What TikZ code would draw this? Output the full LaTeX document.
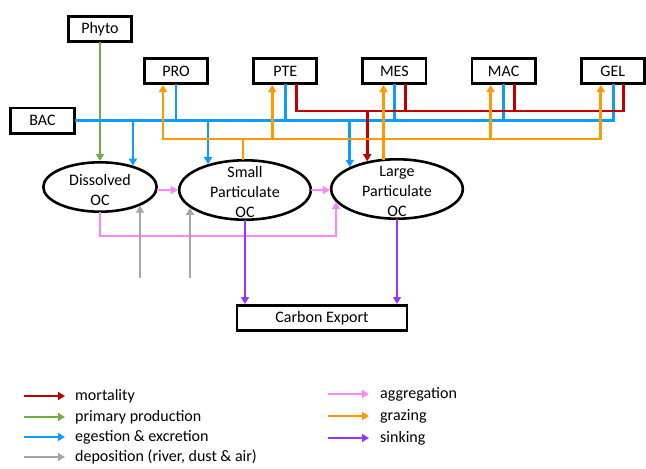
\documentclass[tikz,border=0pt]{standalone}
\usepackage{fontspec}
\setmainfont{Carlito}
\usepackage{xcolor}
\usetikzlibrary{shapes.geometric, arrows.meta, positioning}

\definecolor{mortred}{HTML}{C00000}
\definecolor{prodgreen}{HTML}{70AD47}
\definecolor{egestblue}{HTML}{0E9BFF}
\definecolor{depgray}{HTML}{A6A6A6}
\definecolor{aggrpink}{HTML}{FF85FF}
\definecolor{grazeorange}{HTML}{FF9900}
\definecolor{sinkpurple}{HTML}{9436FF}

\begin{document}
\begin{tikzpicture}[x=1pt, y=-1pt, node distance=43.2pt, font=\fontsize{16}{20}\selectfont]
    % Styles
    \tikzstyle{compartment} = [rectangle, minimum width=63.2pt, minimum height=25.2pt, text centered, draw=black, line width=2.8pt]
    \tikzstyle{pool} = [ellipse, draw=black, line width=2.6pt, inner sep=0pt, minimum width=131.6pt, minimum height=59.4pt]
    \tikzstyle{flow} = [line width=2.7pt, line cap=rect, -{Triangle[length=7pt,width=8pt]}]
    \tikzstyle{mort} = [flow, draw=mortred]
    \tikzstyle{prod} = [flow, draw=prodgreen]
    \tikzstyle{egest} = [flow, draw=egestblue]
    \tikzstyle{depo} = [flow, draw=depgray]
    \tikzstyle{aggr} = [flow, draw=aggrpink]
    \tikzstyle{graze} = [flow, draw=grazeorange]
    \tikzstyle{sink} = [flow, draw=sinkpurple]
    \tikzstyle{legtext} = [anchor=west, inner sep=0pt]

    \useasboundingbox (0,0) rectangle (646,469);

    % Nodes
    \node (phyto) [compartment] at (100,29) {Phyto};
    \node (bac) [compartment, minimum width=64pt] at (42.5,120.5) {BAC};
    \node (pro) [compartment] at (176,71) {PRO};
    \node (pte) [compartment, right=of pro] {PTE};
    \node (mes) [compartment, right=of pte] {MES};
    \node (mac) [compartment, right=of mes] {MAC};
    \node (gel) [compartment, right=of mac] {GEL};

    \node (doc) [pool, minimum width=113.4pt, minimum height=49.4pt,
        label={[yshift=-3pt, align=center]center:{Dissolved\\OC}}] at (100,187) {};
    \node (spoc) [pool, label={[yshift=-2pt, align=center]center:{Small\\Particulate\\OC}}] at (245,190) {};
    \node (lpoc) [pool, label={[yshift=-2pt, align=center]center:{Large\\Particulate\\OC}}] at (397,189) {};

    \node (export) [compartment, minimum width=170pt] at (322,318) {Carbon Export};

    \coordinate (redrail) at (0,111);
    \coordinate (orrail) at (0,139);
    \coordinate (dep1) at (140,277);
    \coordinate (dep2) at (190,277);

    % Primary production
    \draw [prod] (phyto) -- (doc);

    % Egestion & excretion
    \draw [egest, -] (bac.east) -| ([xshift=1pt]gel.south);
    \foreach \z in {pro, pte, mes, mac}
        \draw [egest, -] (\z.south) -- (\z.south |- bac.east);
    \draw [egest] (doc.33 |- bac.east) -- (doc.33);
    \draw [egest] (spoc.145.1 |- bac.east) -- (spoc.145.1);
    \draw [egest] (lpoc.155.8 |- bac.east) -- (lpoc.155.8);

    % Mortality
    \draw [mort, -] ([xshift=11pt]pte.south) |- ([xshift=11pt]gel.south |- redrail) -- ([xshift=11pt]gel.south);
    \foreach \z in {mes, mac}
        \draw [mort, -] ([xshift=11pt]\z.south) -- ([xshift=11pt]\z.south |- redrail);
    \draw [mort] (lpoc.137.3 |- redrail) -- (lpoc.137.3);

    % Grazing
    \draw [graze, -] ([xshift=-13pt]pro.south |- orrail) -- ([xshift=-12pt]gel.south |- orrail);
    \foreach \z in {pro, pte, mac}
        \draw [graze] ([xshift=-13pt]\z.south |- orrail) -- ([xshift=-13pt]\z.south);
    \draw [graze] ([xshift=-12pt]gel.south |- orrail) -- ([xshift=-12pt]gel.south);
    \draw [graze, -] ([xshift=-2pt]spoc.north) -- ([xshift=-2pt]spoc.north |- orrail);
    \draw [graze] (lpoc.114.8) -- (lpoc.114.8 |- mes.south);

    % Aggregation
    \draw [aggr] (doc.east |- spoc.west) -- (spoc.west);
    \draw [aggr] (spoc.east) -- (lpoc.west |- spoc.east);
    \draw [aggr] (doc.south) -- ++(0,23) -| (lpoc.-168.1);

    % Deposition
    \draw [depo] (dep1) -- (dep1 |- doc.-25.2);
    \draw [depo] (dep2) -- (dep2 |- spoc.-162.2);

    % Sinking
    \draw [sink] (spoc.south) -- (spoc.south |- export.north);
    \draw [sink] (lpoc.south) -- (lpoc.south |- export.north);

    % Legend
    \node (lmort) [legtext] at (75,396) {mortality};
    \node (lprod) [legtext] at (75,417) {primary production};
    \node (legest) [legtext] at (75,437) {egestion \& excretion};
    \node (ldepo) [legtext] at (75,457) {deposition (river, dust \& air)};
    \node (laggr) [legtext] at (380,394) {aggregation};
    \node (lgraze) [legtext] at (380,416) {grazing};
    \node (lsink) [legtext] at (380,438) {sinking};
    \draw [mort] ([xshift=-50pt]lmort.west) -- ([xshift=-10pt]lmort.west);
    \draw [prod] ([xshift=-50pt]lprod.west) -- ([xshift=-10pt]lprod.west);
    \draw [egest] ([xshift=-50pt]legest.west) -- ([xshift=-10pt]legest.west);
    \draw [depo] ([xshift=-50pt]ldepo.west) -- ([xshift=-10pt]ldepo.west);
    \draw [aggr] ([xshift=-51pt]laggr.west) -- ([xshift=-11pt]laggr.west);
    \draw [graze] ([xshift=-51pt]lgraze.west) -- ([xshift=-11pt]lgraze.west);
    \draw [sink] ([xshift=-51pt]lsink.west) -- ([xshift=-11pt]lsink.west);
\end{tikzpicture}
\end{document}
